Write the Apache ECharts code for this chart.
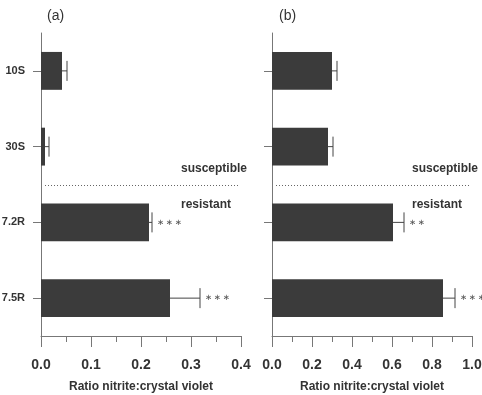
<!DOCTYPE html>
<html>
<head>
<meta charset="utf-8">
<script src="https://cdn.jsdelivr.net/npm/echarts@6/dist/echarts.min.js"></script>
<style>
  html, body { margin: 0; padding: 0; background: #fff; }
  #chart { width: 482px; height: 395px; }
</style>
</head>
<body>
<div id="chart"></div>
<script>
// strains, top to bottom
const categories = ['10S', '30S', '7.2R', '7.5R']

// (a) ratio nitrite : crystal violet
const ratioA = [0.042, 0.008, 0.216, 0.258]
const errA = [0.010, 0.008, 0.006, 0.060]
const starsA = ['', '', '∗\u2009∗\u2009∗', '∗\u2009∗\u2009∗']
const ticksA = { max: 0.4, interval: 0.1 }

// (b)
const ratioB = [0.30, 0.28, 0.605, 0.855]
const errB = [0.025, 0.025, 0.055, 0.060]
const starsB = ['', '', '∗\u2009∗', '∗\u2009∗\u2009∗']
const ticksB = { max: 1.0, interval: 0.2 }

const panelNames = ['(a)', '(b)']
const groupNames = ['susceptible', 'resistant']

const ink = '#333'
const axisGray = '#777'
const barColor = '#3b3b3b'
const font = 'Liberation Sans'

const chart = echarts.init(document.getElementById('chart'), null, { renderer: 'canvas' })

function xAxisFor(idx, ticks) {
  return {
    type: 'value', gridIndex: idx, min: 0, max: ticks.max, interval: ticks.interval,
    axisLine: { show: true, lineStyle: { color: axisGray, width: 1 } },
    axisTick: { show: true, length: 11, lineStyle: { color: axisGray } },
    minorTick: { show: true, splitNumber: 2, length: 6, lineStyle: { color: axisGray } },
    splitLine: { show: false },
    axisLabel: {
      margin: 22, fontSize: 14, fontWeight: 'bold', color: ink, fontFamily: font,
      formatter: v => v.toFixed(1)
    },
    name: 'Ratio nitrite:crystal violet', nameLocation: 'middle', nameGap: 45,
    nameTextStyle: { fontSize: 12, fontWeight: 'bold', color: ink, fontFamily: font }
  }
}

function yAxisFor(idx, showLabels) {
  return {
    type: 'category', gridIndex: idx, data: categories, inverse: true,
    axisLine: { show: true, lineStyle: { color: axisGray, width: 1 } },
    axisTick: { show: true, alignWithLabel: true, length: 8, lineStyle: { color: axisGray } },
    axisLabel: {
      show: showLabels, margin: 16, fontSize: 11, fontWeight: 'bold', color: ink, fontFamily: font
    }
  }
}

function errorSeries(idx, vals, errs, stars) {
  return {
    type: 'custom', xAxisIndex: idx, yAxisIndex: idx, z: 3,
    data: vals.map((v, i) => [v, i, errs[i]]),
    encode: { x: 0, y: 1 },
    renderItem(params, api) {
      const v = api.value(0), c = api.value(1), e = api.value(2)
      const p0 = api.coord([v, c])
      const p1 = api.coord([v + e, c])
      const st = { stroke: '#444', lineWidth: 1 }
      return {
        type: 'group',
        children: [
          { type: 'line', shape: { x1: p0[0], y1: p0[1], x2: p1[0], y2: p1[1] }, style: st },
          { type: 'line', shape: { x1: p1[0], y1: p1[1] - 10, x2: p1[0], y2: p1[1] + 10 }, style: st },
          {
            type: 'text', x: p1[0] + 5, y: p1[1],
            style: {
              text: stars[params.dataIndex], fill: '#555', fontSize: 8.5,
              fontFamily: 'DejaVu Sans', verticalAlign: 'middle', align: 'left'
            }
          }
        ]
      }
    }
  }
}

// dotted divider between susceptible and resistant strains
function dividerSeries(idx) {
  return {
    type: 'custom', xAxisIndex: idx, yAxisIndex: idx, z: 4,
    data: [[0, 1]],
    encode: { x: 0, y: 1 },
    renderItem(params, api) {
      const cs = params.coordSys
      const a = api.coord([0, 1])
      const b = api.coord([0, 2])
      const y = Math.round((a[1] + b[1]) / 2) + 0.5
      const right = cs.x + cs.width
      const txt = { fill: ink, fontSize: 12, fontWeight: 'bold', fontFamily: font, align: 'right', verticalAlign: 'middle' }
      return {
        type: 'group',
        children: [
          { type: 'line', shape: { x1: cs.x + 4, y1: y, x2: right - 2, y2: y }, style: { stroke: '#666', lineWidth: 1, lineDash: [1, 2] } },
          { type: 'text', x: right + 6, y: y - 17, style: Object.assign({ text: groupNames[0] }, txt) },
          { type: 'text', x: right - 10, y: y + 19, style: Object.assign({ text: groupNames[1] }, txt) }
        ]
      }
    }
  }
}

const option = {
  backgroundColor: '#fff',
  animation: false,
  title: panelNames.map((t, i) => ({
    text: t, left: i === 0 ? 42 : 274, top: 4,
    textStyle: { fontSize: 14, fontWeight: 'normal', color: ink, fontFamily: font }
  })),
  grid: [
    { left: 41, top: 33, width: 200, height: 303, containLabel: false, outerBoundsMode: 'none' },
    { left: 272, top: 33, width: 200, height: 303, containLabel: false, outerBoundsMode: 'none' }
  ],
  xAxis: [xAxisFor(0, ticksA), xAxisFor(1, ticksB)],
  yAxis: [yAxisFor(0, true), yAxisFor(1, false)],
  series: [
    { type: 'bar', xAxisIndex: 0, yAxisIndex: 0, data: ratioA, barWidth: '50%', itemStyle: { color: barColor } },
    { type: 'bar', xAxisIndex: 1, yAxisIndex: 1, data: ratioB, barWidth: '50%', itemStyle: { color: barColor } },
    errorSeries(0, ratioA, errA, starsA),
    errorSeries(1, ratioB, errB, starsB),
    dividerSeries(0),
    dividerSeries(1)
  ]
}

chart.setOption(option)
</script>
</body>
</html>
